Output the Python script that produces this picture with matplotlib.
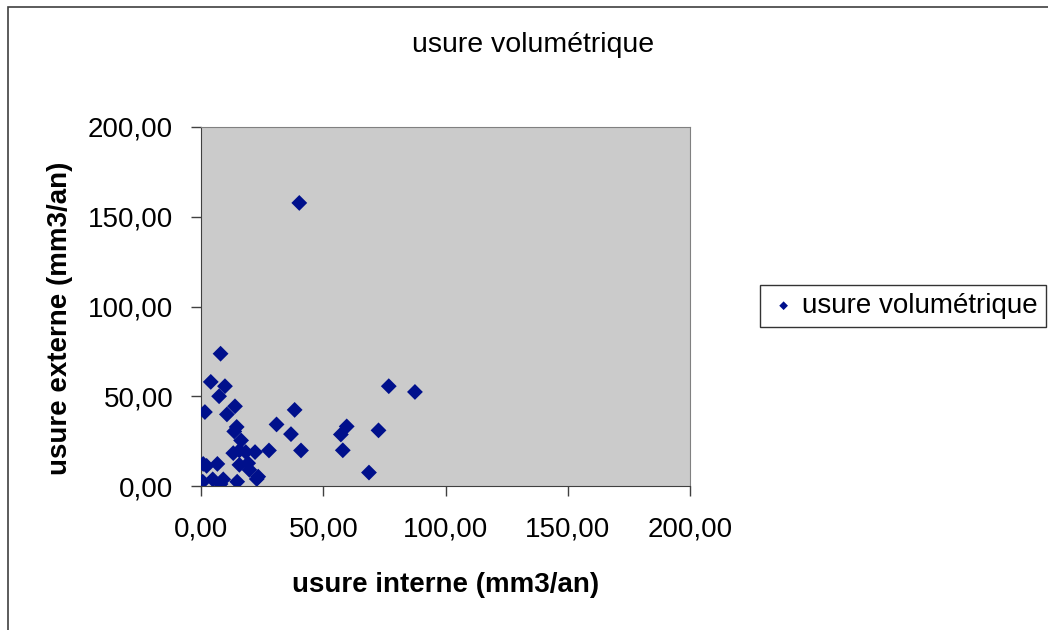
import matplotlib
matplotlib.use("Agg")
import matplotlib.pyplot as plt
from matplotlib.patches import Rectangle
from matplotlib.ticker import FuncFormatter

plt.rcParams['font.family'] = ['Liberation Sans', 'DejaVu Sans']

# usure interne / usure externe (mm3/an)
usure_interne = [8.0, 4.0, 9.8, 7.4, 13.9, 1.6, 10.6, 38.3, 30.9, 14.6,
                 13.6, 36.8, 16.4, 59.6, 57.2, 72.6, 76.8, 87.5, 27.8, 40.9,
                 58.0, 68.7, 13.2, 15.7, 18.3, 22.1, 15.7, 19.3, 19.8, 23.4,
                 22.8, 0.9, 2.3, 6.7, 4.8, 9.1, 8.0, 0.7, 14.8, 40.2]
usure_externe = [73.7, 58.0, 55.6, 50.0, 44.4, 41.2, 39.9, 42.4, 34.3, 32.9,
                 30.4, 28.9, 25.4, 33.2, 28.7, 31.0, 55.6, 52.4, 19.8, 19.8,
                 19.9, 7.5, 18.3, 19.8, 18.9, 18.9, 11.8, 12.7, 9.0, 5.2,
                 3.9, 12.3, 11.2, 12.3, 3.7, 3.7, 1.1, 2.4, 2.4, 157.7]
ticks = [0, 50, 100, 150, 200]

fig = plt.figure(figsize=(10.48, 6.3), dpi=100)
# outer chart frame (cut off on right and bottom like the screenshot)
fig.patches.append(Rectangle((8/1048, -0.1), 1.2, 1 - 7/630 + 0.1,
                             transform=fig.transFigure, fill=False,
                             edgecolor='#404040', linewidth=1.2))

ax = fig.add_axes([201/1048, 1 - 486/630, 489/1048, 359/630])
ax.set_facecolor('#CBCBCB')
ax.scatter(usure_interne, usure_externe, marker='D', s=65, color='#00108C',
           edgecolors='none', label='usure volumétrique', zorder=3)

ax.set_xlim(0, 200)
ax.set_ylim(0, 200)
ax.set_xticks(ticks)
ax.set_yticks(ticks)
fmt = FuncFormatter(lambda v, p: ('%.2f' % v).replace('.', ','))
ax.xaxis.set_major_formatter(fmt)
ax.yaxis.set_major_formatter(fmt)
ax.tick_params(direction='out', length=7, width=1, colors='#404040',
               labelcolor='black', labelsize=20)
ax.tick_params(axis='x', pad=15)
ax.tick_params(axis='y', pad=13)
for s in ['top', 'right']:
    ax.spines[s].set_color('#808080')
for s in ['left', 'bottom']:
    ax.spines[s].set_color('#404040')

ax.set_xlabel('usure interne (mm3/an)', fontsize=20, fontweight='bold', va='center')
ax.xaxis.set_label_coords(0.501, (486 - 585) / 359)
ax.set_ylabel('usure externe (mm3/an)', fontsize=20, fontweight='bold', va='center')
ax.yaxis.set_label_coords((60 - 201) / 489, (486 - 318) / 359)
fig.text(533/1048, 1 - 45/630, 'usure volumétrique', fontsize=20.5,
         ha='center', va='center')

leg = fig.legend(loc='center left', bbox_to_anchor=(760/1048, 1 - 306/630),
                 fontsize=20, frameon=True, fancybox=False, markerscale=0.55,
                 handletextpad=0.1, borderpad=0.3, handlelength=1.1,
                 borderaxespad=0)
leg.get_frame().set_edgecolor('black')
leg.get_frame().set_linewidth(1)

fig.savefig('out.png', dpi=100)
